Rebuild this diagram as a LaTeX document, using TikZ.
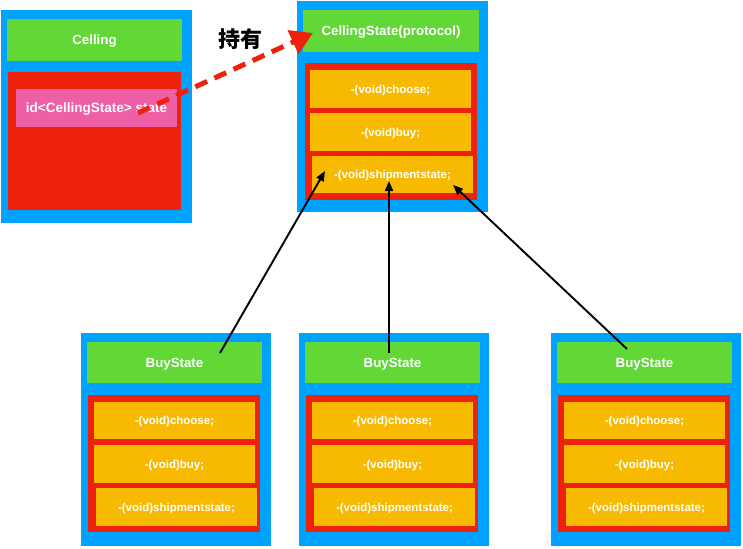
\documentclass[tikz,border=0pt]{standalone}
\usepackage{fontspec}
\setmainfont{Liberation Sans}
\newfontfamily\cjk{Noto Sans CJK SC}
\usetikzlibrary{arrows.meta}
\definecolor{cblue}{RGB}{0,162,255}
\definecolor{cgreen}{RGB}{97,216,54}
\definecolor{cred}{RGB}{238,34,12}
\definecolor{corange}{RGB}{248,186,0}
\definecolor{cpink}{RGB}{239,95,167}
\tikzset{
  box/.style={anchor=north west, inner sep=0pt, outer sep=0pt, draw=none},
  outerbox/.style={box, fill=cblue},
  titlebox/.style={box, fill=cgreen, text=white, font=\fontsize{13.3}{15}\selectfont\bfseries, text height=9.6pt, text depth=0pt},
  bodybox/.style={box, fill=cred},
  methodbox/.style={box, fill=corange, text=white, font=\fontsize{11.5}{13}\selectfont\bfseries, text height=8.2pt, text depth=0pt},
  fieldbox/.style={box, fill=cpink, text=white, font=\fontsize{13.5}{15}\selectfont\bfseries, text height=9.7pt, text depth=0pt},
  implarrow/.style={draw=black, line width=1.9pt, -{Triangle[length=10pt,width=8pt]}},
  holdarrow/.style={draw=cred, line width=5pt, dash pattern=on 13pt off 8pt, -{Triangle[length=22pt,width=25pt]}},
}
\begin{document}
\begin{tikzpicture}[x=1pt,y=-1pt]
\useasboundingbox (0,0) rectangle (743,548);
% Celling
\node[outerbox, minimum width=191pt, minimum height=213pt] (cel) at (1,10) {};
\node[titlebox, minimum width=175pt, minimum height=42pt] (celT) at (7,19) {Celling};
\node[bodybox, minimum width=173pt, minimum height=138pt] (celB) at (8,72) {};
\node[fieldbox, minimum width=161pt, minimum height=38pt] (celF) at (16,89) {id<CellingState> state};
% CellingState
\node[outerbox, minimum width=191pt, minimum height=211pt] (cs) at (297,1) {};
\node[titlebox, minimum width=176pt, minimum height=42pt] (csT) at (303,10) {CellingState(protocol)};
\node[bodybox, minimum width=172pt, minimum height=137pt] (csB) at (305,63) {};
\node[methodbox, minimum width=161pt, minimum height=38pt] (csM1) at (310,70) {-(void)choose;};
\node[methodbox, minimum width=161pt, minimum height=38pt] (csM2) at (310,113) {-(void)buy;};
\node[methodbox, minimum width=161pt, minimum height=37pt] (csM3) at (312,156) {-(void)shipmentstate;};
% BuyState boxes
\foreach \x/\n in {81/a,299/b,551/c}{
  \node[outerbox, minimum width=190pt, minimum height=213pt] (bs\n) at (\x,333) {};
  \node[titlebox, minimum width=175pt, minimum height=41pt] (bs\n T) at (\x+6,342) {BuyState};
  \node[bodybox, minimum width=172pt, minimum height=137pt] (bs\n B) at (\x+7,395) {};
  \node[methodbox, minimum width=161pt, minimum height=37pt] (bs\n M1) at (\x+13,402) {-(void)choose;};
  \node[methodbox, minimum width=161pt, minimum height=38pt] (bs\n M2) at (\x+13,445) {-(void)buy;};
  \node[methodbox, minimum width=161pt, minimum height=38pt] (bs\n M3) at (\x+15,488) {-(void)shipmentstate;};
}
% label
\node[font=\cjk\fontsize{22}{24}\selectfont\bfseries, text=black, inner sep=0pt] (hold) at (240,39) {持有};
% connectors
\coordinate (hs) at (138,113);
\coordinate (ht) at (313,33);
\draw[holdarrow] (hs) -- (ht);
\coordinate (a1s) at (220,353);
\coordinate (a1t) at (325,171);
\coordinate (a2s) at (389,353);
\coordinate (a2t) at (389,181);
\coordinate (a3s) at (627,349);
\coordinate (a3t) at (453,185);
\draw[implarrow] (a1s) -- (a1t);
\draw[implarrow] (a2s) -- (a2t);
\draw[implarrow] (a3s) -- (a3t);
\end{tikzpicture}
\end{document}
